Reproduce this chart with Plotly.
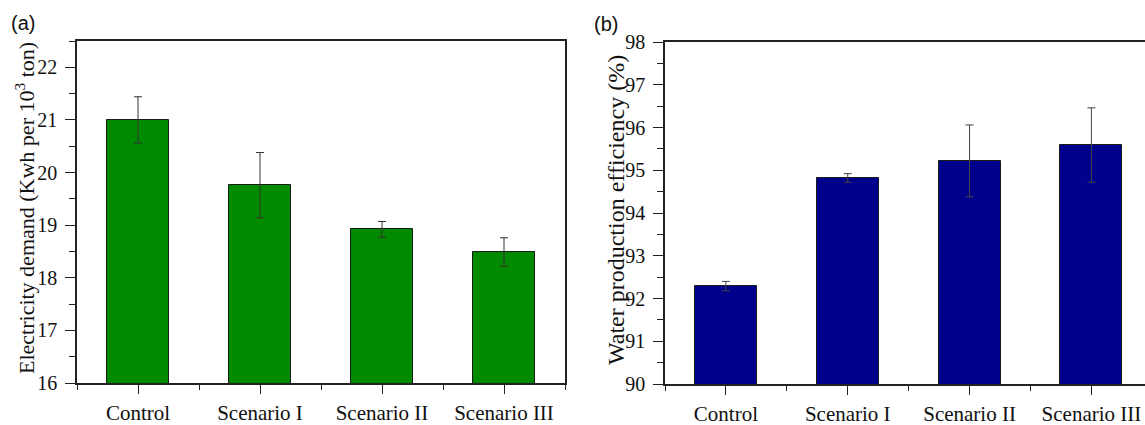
import plotly.graph_objects as go

categories = ["Control", "Scenario I", "Scenario II", "Scenario III"]
electricity = [21.0, 19.76, 18.92, 18.49]
electricity_err = [0.44, 0.62, 0.15, 0.27]
water_eff = [92.29, 94.82, 95.22, 95.59]
water_eff_err = [0.11, 0.10, 0.84, 0.87]

W, H = 1145, 425
xpos = list(range(len(categories)))

fig = go.Figure()
fig.add_trace(go.Bar(
    x=xpos, y=electricity, width=0.51,
    marker=dict(color="#008a00", line=dict(color="#1a1a1a", width=1)),
    error_y=dict(type="data", array=electricity_err, color="#333333", thickness=1, width=4),
    xaxis="x", yaxis="y", showlegend=False))
fig.add_trace(go.Bar(
    x=xpos, y=water_eff, width=0.51,
    marker=dict(color="#00008c", line=dict(color="#1a1a1a", width=1)),
    error_y=dict(type="data", array=water_eff_err, color="#444444", thickness=1, width=4),
    xaxis="x2", yaxis="y2", showlegend=False))

serif = "Liberation Serif"
common_x = dict(
    tickmode="array", tickvals=xpos, ticktext=categories,
    ticks="outside", ticklen=9, tickwidth=1.2, tickcolor="#222",
    showline=True, linecolor="#222", linewidth=1.5, mirror=True,
    showgrid=False, zeroline=False, automargin=False,
    tickfont=dict(family=serif, size=21, color="#111"),
    ticklabelstandoff=1,
    minor=dict(tickmode="linear", tick0=0.5, dtick=1, ticks="outside",
               ticklen=5, tickwidth=1.2, tickcolor="#222"),
)
common_y = dict(
    ticks="outside", ticklen=10, tickwidth=1.2, tickcolor="#222",
    showline=True, linecolor="#222", linewidth=1.5,
    showgrid=False, zeroline=False, automargin=False,
    tickfont=dict(family=serif, size=20, color="#111"),
    ticklabelstandoff=4,
    dtick=1,
    minor=dict(dtick=0.5, ticks="outside", ticklen=6, tickwidth=1.2, tickcolor="#222"),
)

fig.update_layout(
    width=W, height=H,
    margin=dict(l=0, r=0, t=0, b=0),
    paper_bgcolor="white", plot_bgcolor="white",
    bargap=0,
    xaxis=dict(domain=[77 / W, 565 / W], range=[-0.5, 3.5], anchor="y", **common_x),
    yaxis=dict(domain=[1 - 383 / H, 1 - 41 / H], range=[16, 22.5], anchor="x",
               mirror=True, **common_y),
    xaxis2=dict(domain=[665 / W, 1.0], range=[-0.5, 3.44], anchor="y2", **common_x),
    yaxis2=dict(domain=[1 - 384 / H, 1 - 42 / H], range=[90, 98], anchor="x2",
                mirror=False, **common_y),
    annotations=[
        dict(text="Electricity demand (Kwh per 10<sup>3</sup> ton)", textangle=-90,
             xref="paper", yref="paper", x=25 / W, y=1 - 208 / H,
             xanchor="center", yanchor="middle", showarrow=False,
             font=dict(family=serif, size=22, color="#111")),
        dict(text="Water production efficiency (%)", textangle=-90,
             xref="paper", yref="paper", x=616 / W, y=1 - 210 / H,
             xanchor="center", yanchor="middle", showarrow=False,
             font=dict(family=serif, size=24, color="#111")),
        dict(text="(a)", xref="paper", yref="paper", x=23 / W, y=1 - 23 / H,
             xanchor="center", yanchor="middle", showarrow=False,
             font=dict(family="Liberation Sans", size=20, color="#111")),
        dict(text="(b)", xref="paper", yref="paper", x=606 / W, y=1 - 24 / H,
             xanchor="center", yanchor="middle", showarrow=False,
             font=dict(family="Liberation Sans", size=20, color="#111")),
    ],
)

fig.write_html(
    "out.html",
    config={"displayModeBar": False},
    post_script=(
        "document.body.style.margin='0';"
        "document.body.style.overflow='hidden';"
        "document.documentElement.style.overflow='hidden';"
    ),
)
